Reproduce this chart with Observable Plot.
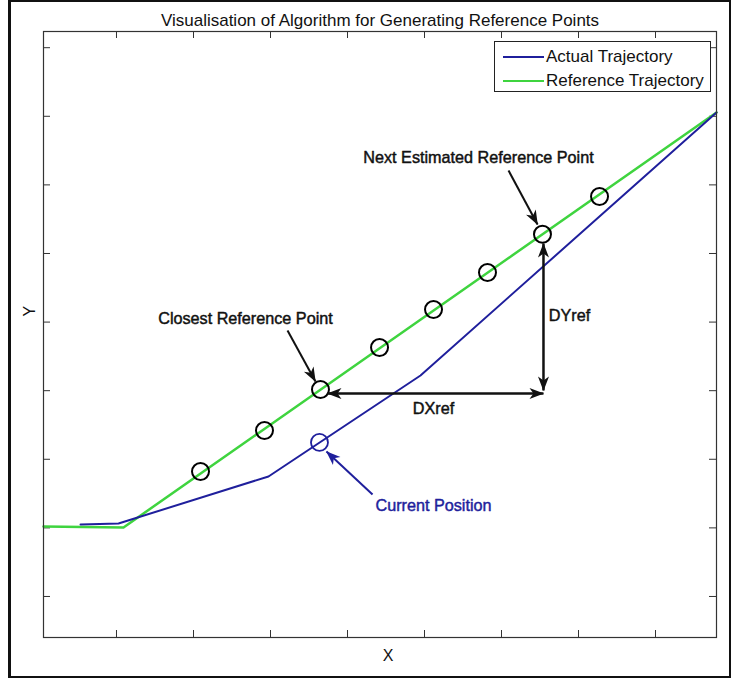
<!DOCTYPE html>
<html><head><meta charset="utf-8">
<script src="https://cdn.jsdelivr.net/npm/d3@7"></script>
<script src="https://cdn.jsdelivr.net/npm/@observablehq/plot@0.6"></script>
<style>
html,body{margin:0;padding:0;background:#fff;}
#wrap{position:relative;width:740px;height:678px;overflow:hidden;font-family:"Liberation Sans",Arial,sans-serif;}
#wrap svg{display:block;}
#border{position:absolute;left:8px;top:0;width:718px;height:674px;border:2px solid #111;border-left-width:3px;pointer-events:none;}
#legend{position:absolute;left:494px;top:41px;width:215px;height:49px;border:1px solid #222;background:#fff;}
.lrow{position:absolute;left:0;height:24px;width:215px;}
.lrow .sw{position:absolute;left:8px;top:11px;width:41px;height:0;}
.lrow .lt{position:absolute;left:51px;top:1px;font-size:17px;line-height:22px;color:#111;white-space:nowrap;}
</style>
</head><body>
<div id="wrap"></div>
<script>
// ---- data ----
const title = "Visualisation of Algorithm for Generating Reference Points";
const xLabel = "X";
const yLabel = "Y";
const seriesNames = ["Actual Trajectory", "Reference Trajectory"];
const seriesColors = ["#1f1f9c", "#3fd43f"];

const xTicks = [1, 2, 3, 4, 5, 6, 7, 8];
const yTicks = [1, 2, 3, 4, 5, 6, 7, 8, 9];
const xDomain = [0.052, 8.792];
const yDomain = [0.402, 9.236];

// Actual trajectory vertices
const actualX = [0.533, 1.026, 2.974, 4.948, 8.792];
const actualY = [2.049, 2.064, 2.749, 4.221, 8.055];
// Reference trajectory vertices
const refX = [0.052, 1.091, 8.792];
const refY = [2.020, 2.006, 8.055];
// Reference points (circles)
const ptX = [2.091, 2.922, 3.649, 4.416, 5.117, 5.818, 6.532, 7.273];
const ptY = [2.822, 3.420, 4.017, 4.629, 5.183, 5.723, 6.280, 6.831];
// Current position
const curX = [3.636];
const curY = [3.245];

// annotations
const noteText = ["Next Estimated Reference Point", "Closest Reference Point", "DXref", "DYref", "Current Position"];
const noteX = [5.701, 2.675, 5.117, 6.883, 5.117];
const noteY = [7.399, 5.052, 3.740, 5.096, 2.326];
const noteBlue = [false, false, false, false, true];

// single-headed arrows: tail -> tip
const arrowX1 = [6.091, 3.221, 4.325];
const arrowY1 = [7.210, 4.877, 2.487];
const arrowX2 = [6.468, 3.584, 3.727];
const arrowY2 = [6.422, 4.134, 3.113];
const arrowBlue = [false, false, true];
// double-headed arrows (DXref, DYref)
const dblX1 = [3.740, 6.545];
const dblY1 = [3.959, 6.145];
const dblX2 = [6.545, 6.545];
const dblY2 = [3.959, 4.003];

// ---- build tables ----
const actual = actualX.map((x, i) => ({x, y: actualY[i]}));
const reference = refX.map((x, i) => ({x, y: refY[i]}));
const points = ptX.map((x, i) => ({x, y: ptY[i]}));
const current = curX.map((x, i) => ({x, y: curY[i]}));
const notes = noteText.map((t, i) => ({t, x: noteX[i], y: noteY[i], blue: noteBlue[i]}));
const arrows = arrowX1.map((x1, i) => ({x1, y1: arrowY1[i], x2: arrowX2[i], y2: arrowY2[i], blue: arrowBlue[i]}));
const dbl = dblX1.map((x1, i) => ({x1, y1: dblY1[i], x2: dblX2[i], y2: dblY2[i]}));

const W = 740, H = 678, ml = 43, mr = 24, mt = 31, mb = 41;
const fh = H - mt - mb, fw = W - ml - mr;
const BLUE = seriesColors[0], GREEN = seriesColors[1], INK = "#111";
const FONT = "Liberation Sans, Arial, sans-serif";

function headMarker(color) {
  const ns = "http://www.w3.org/2000/svg";
  const m = document.createElementNS(ns, "marker");
  m.setAttribute("viewBox", "-15 -6 16 12");
  m.setAttribute("markerWidth", 16);
  m.setAttribute("markerHeight", 12);
  m.setAttribute("markerUnits", "userSpaceOnUse");
  m.setAttribute("refX", 0);
  m.setAttribute("refY", 0);
  m.setAttribute("orient", "auto-start-reverse");
  const p = document.createElementNS(ns, "path");
  p.setAttribute("d", "M0.5,0L-14,-5.5L-10,0L-14,5.5Z");
  p.setAttribute("fill", color);
  p.setAttribute("stroke", "none");
  m.appendChild(p);
  return m;
}

const plot = Plot.plot({
  width: W, height: H,
  marginLeft: ml, marginRight: mr, marginTop: mt, marginBottom: mb,
  style: {fontFamily: FONT, background: "#fff"},
  x: {domain: xDomain, axis: null},
  y: {domain: yDomain, axis: null},
  marks: [
    // inward ticks on all four sides
    Plot.tickX(xTicks, {x: d => d, insetTop: fh - 7, stroke: "#333"}),
    Plot.tickX(xTicks, {x: d => d, insetBottom: fh - 7, stroke: "#333"}),
    Plot.tickY(yTicks, {y: d => d, insetRight: fw - 7, stroke: "#333"}),
    Plot.tickY(yTicks, {y: d => d, insetLeft: fw - 7, stroke: "#333"}),
    Plot.line(reference, {x: "x", y: "y", stroke: GREEN, strokeWidth: 2.5}),
    Plot.line(actual, {x: "x", y: "y", stroke: BLUE, strokeWidth: 2}),
    Plot.dot(points, {x: "x", y: "y", r: 8.5, stroke: "#000", strokeWidth: 2, fill: "none"}),
    Plot.dot(current, {x: "x", y: "y", r: 8.5, stroke: BLUE, strokeWidth: 1.8, fill: "none"}),
    Plot.link(arrows, {x1: "x1", y1: "y1", x2: "x2", y2: "y2", stroke: d => d.blue ? BLUE : INK, strokeWidth: 2, markerEnd: headMarker}),
    Plot.link(dbl, {x1: "x1", y1: "y1", x2: "x2", y2: "y2", stroke: INK, strokeWidth: 2.5, markerStart: headMarker, markerEnd: headMarker}),
    Plot.text(notes, {x: "x", y: "y", text: "t", fontSize: 16.2, fill: d => d.blue ? BLUE : INK,
      stroke: d => d.blue ? BLUE : INK, strokeWidth: 0.45, paintOrder: "fill"}),
    Plot.frame({stroke: "#333", strokeWidth: 1.2}),
    Plot.text([title], {frameAnchor: "top", dy: -18, fontSize: 17, fill: INK}),
    Plot.text([xLabel], {frameAnchor: "bottom", dx: 8, dy: 23, fontSize: 16, fill: INK}),
    Plot.text([yLabel], {frameAnchor: "left", dx: -14, dy: -18, rotate: -90, fontSize: 16, fill: INK})
  ]
});

const wrap = document.getElementById("wrap");
wrap.appendChild(plot);

// legend
const legend = document.createElement("div");
legend.id = "legend";
seriesNames.forEach((name, i) => {
  const row = document.createElement("div");
  row.className = "lrow";
  row.style.top = (3 + i * 24) + "px";
  const sw = document.createElement("div");
  sw.className = "sw";
  sw.style.borderTop = `2.5px solid ${seriesColors[i]}`;
  const lt = document.createElement("div");
  lt.className = "lt";
  lt.textContent = name;
  row.appendChild(sw); row.appendChild(lt);
  legend.appendChild(row);
});
wrap.appendChild(legend);

const border = document.createElement("div");
border.id = "border";
wrap.appendChild(border);
</script>
</body></html>
